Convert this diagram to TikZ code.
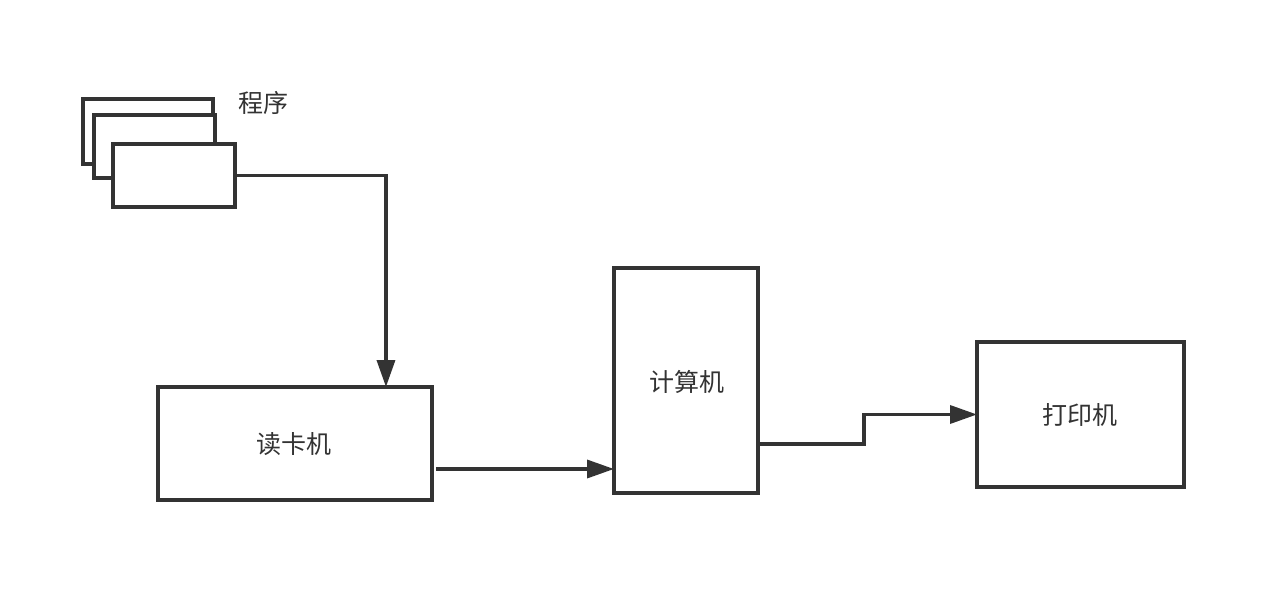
\documentclass[tikz,border=0pt]{standalone}
\usepackage{fontspec}
\setmainfont{Noto Sans CJK SC}
\usetikzlibrary{arrows.meta,calc}
\definecolor{ink}{HTML}{333333}
\tikzset{
  box/.style={draw=ink, line width=1.75pt, fill=white, rectangle, inner sep=0pt, outer sep=0pt},
  lbl/.style={text=ink, font=\fontsize{12.5pt}{14pt}\selectfont, inner sep=0pt},
  arr/.style={draw=ink, line width=1.75pt, -{Triangle[length=13.5pt,width=9pt]}},
  conn/.style={draw=ink, line width=1.75pt}
}
\begin{document}
\begin{tikzpicture}[x=0.5pt,y=-0.5pt]
\useasboundingbox[fill=white] (0,0) rectangle (1280,609);
% program cards
\node[box, minimum width=65pt, minimum height=32.5pt] (card3) at (148,131.5) {};
\node[box, minimum width=60.5pt, minimum height=31.5pt] (card2) at (154.5,146.5) {};
\node[box, minimum width=61pt, minimum height=31.5pt] (card1) at (174,175.5) {};
\node[lbl] (prog) at (263,103) {程序};
% main boxes
\node[box, minimum width=137pt, minimum height=56.5pt] (reader) at (295,443.5) {};
\node[lbl] (readerlbl) at (294,444) {读卡机};
\node[box, minimum width=72pt, minimum height=112.5pt] (computer) at (686,380.5) {};
\node[lbl] (computerlbl) at (687,382) {计算机};
\node[box, minimum width=103.5pt, minimum height=72.5pt] (printer) at (1080.5,414.5) {};
\node[lbl] (printerlbl) at (1080,415) {打印机};
% connectors
\draw[arr] (card1.east) -| ($(reader.north west)!0.832!(reader.north east)$);
\draw[arr] ([xshift=2pt,yshift=-12.75pt]reader.east) -- ([yshift=-12.75pt]reader.east -| computer.west);
\draw[arr] ([xshift=-1pt,yshift=-31.75pt]computer.east) -- ++(108,0) |- (printer.west);
\end{tikzpicture}
\end{document}
